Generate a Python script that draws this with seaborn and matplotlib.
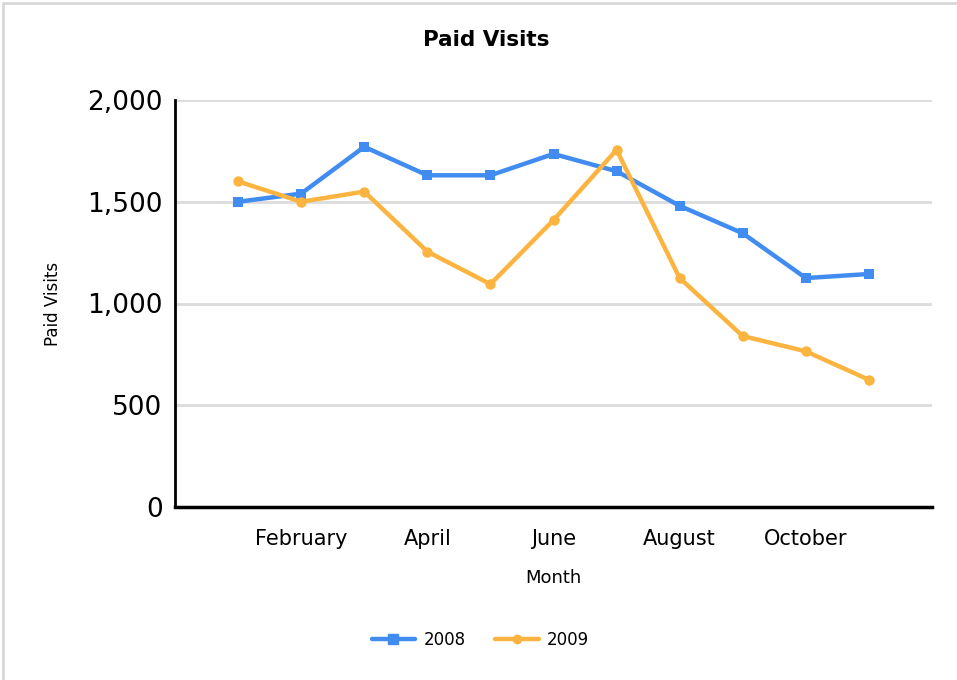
import matplotlib
matplotlib.use("Agg")
import matplotlib.pyplot as plt
from matplotlib.lines import Line2D
import pandas as pd
import seaborn as sns

# Data
months = ["January", "February", "March", "April", "May", "June",
          "July", "August", "September", "October", "November"]
visits_2008 = [1500, 1540, 1770, 1630, 1630, 1735, 1650, 1480, 1345, 1125, 1145]
visits_2009 = [1600, 1500, 1550, 1255, 1095, 1410, 1755, 1125, 840, 765, 625]
years = ["2008", "2009"]
tick_labels = ["", "February", "April", "June", "August", "October", ""]

df = pd.DataFrame({
    "idx": list(range(len(months))) * 2,
    "Month": months * 2,
    "Paid Visits": visits_2008 + visits_2009,
    "Year": [years[0]] * len(months) + [years[1]] * len(months),
})

sns.set_style("white")
plt.rcParams["font.family"] = ["DejaVu Sans"]
plt.rcParams["text.color"] = "black"
plt.rcParams["axes.labelcolor"] = "black"
plt.rcParams["xtick.labelcolor"] = "black"
plt.rcParams["ytick.labelcolor"] = "black"

fig = plt.figure(figsize=(9.57, 6.8), dpi=100)
ax = fig.add_axes([175 / 957, 1 - 507 / 680, (932 - 175) / 957, (507 - 100) / 680])

palette = {"2008": "#418CF0", "2009": "#FCB441"}
sns.lineplot(data=df, x="idx", y="Paid Visits", hue="Year", style="Year",
             markers={"2008": "s", "2009": "o"}, dashes=False,
             palette=palette, linewidth=3.2, markersize=7.5,
             markeredgewidth=0, ax=ax, legend=False)

ax.set_xlim(-1, 11)
ax.set_ylim(0, 2000)
ax.set_xticks([-1, 1, 3, 5, 7, 9, 11])
ax.set_xticklabels(tick_labels, fontsize=15)
ax.set_yticks([0, 500, 1000, 1500, 2000])
ax.set_yticklabels(["0", "500", "1,000", "1,500", "2,000"], fontsize=19)

ax.yaxis.grid(True, color="#dcdcdc", linewidth=2)
ax.set_axisbelow(True)
for s in ["top", "right"]:
    ax.spines[s].set_visible(False)
ax.spines["left"].set_linewidth(2)
ax.spines["bottom"].set_linewidth(2.5)
ax.spines["left"].set_color("black")
ax.spines["bottom"].set_color("black")
ax.tick_params(axis="y", length=5, width=1, color="#555555", pad=4)
ax.tick_params(axis="x", length=6, width=1, color="#999999", pad=10)

ax.set_xlabel("Month", fontsize=13, labelpad=14)
ax.set_ylabel("Paid Visits", fontsize=12, labelpad=18)

fig.text(0.508, 1 - 40 / 680, "Paid Visits", ha="center", va="center",
         fontsize=15.5, fontweight="bold")

handles = [
    Line2D([], [], color=palette["2008"], linewidth=3.2, marker="s", markersize=7),
    Line2D([], [], color=palette["2009"], linewidth=3.2, marker="o", markersize=6),
]
fig.legend(handles, years, loc="center", bbox_to_anchor=(0.502, 1 - 640 / 680),
           ncol=2, frameon=False, fontsize=12, handlelength=2.6,
           columnspacing=1.8, handletextpad=0.5)

# light frame on top and left edge
fig.add_artist(Line2D([3 / 957, 1], [1 - 3 / 680, 1 - 3 / 680],
                      transform=fig.transFigure, color="#d8d8d8", linewidth=2))
fig.add_artist(Line2D([3 / 957, 3 / 957], [0, 1 - 3 / 680],
                      transform=fig.transFigure, color="#d8d8d8", linewidth=2))

plt.savefig("out.png", dpi=100)
